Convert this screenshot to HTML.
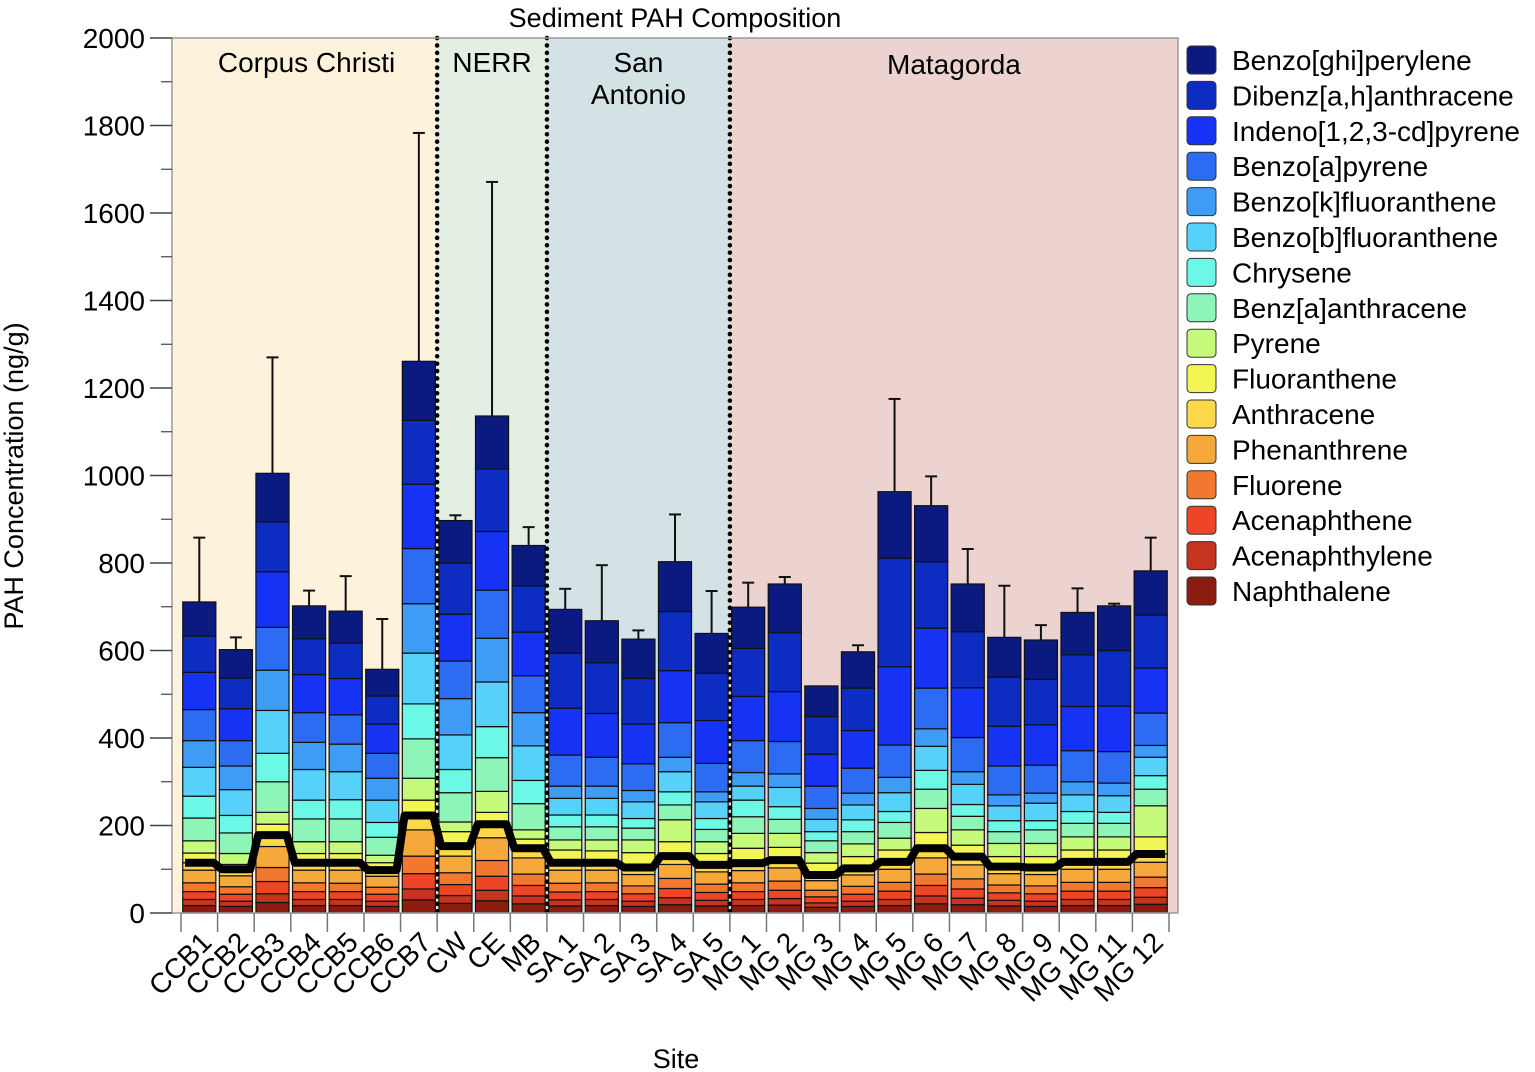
<!DOCTYPE html>
<html><head><meta charset="utf-8">
<style>
html,body{margin:0;padding:0;background:#fff;}
svg{display:block;font-family:"Liberation Sans",Arial,sans-serif;}
</style></head>
<body>
<svg id="chart" width="1535" height="1072" viewBox="0 0 1535 1072" xmlns="http://www.w3.org/2000/svg">
<text x="675" y="27" font-size="27" text-anchor="middle">Sediment PAH Composition</text>
<text x="676" y="1068" font-size="27" text-anchor="middle">Site</text>
<text transform="translate(23,476) rotate(-90)" font-size="27" text-anchor="middle">PAH Concentration (ng/g)</text>
<g id="plot"></g>
<g id="legend"></g>
</svg>
<script>
const sites = ["CCB1","CCB2","CCB3","CCB4","CCB5","CCB6","CCB7","CW","CE","MB","SA 1","SA 2","SA 3","SA 4","SA 5","MG 1","MG 2","MG 3","MG 4","MG 5","MG 6","MG 7","MG 8","MG 9","MG 10","MG 11","MG 12"];
const compNames = ["Naphthalene","Acenaphthylene","Acenaphthene","Fluorene","Phenanthrene","Anthracene","Fluoranthene","Pyrene","Benz[a]anthracene","Chrysene","Benzo[b]fluoranthene","Benzo[k]fluoranthene","Benzo[a]pyrene","Indeno[1,2,3-cd]pyrene","Dibenz[a,h]anthracene","Benzo[ghi]perylene"];
const naph = [17,15,24,17,17,15,30,22,28,21,16,17,15,19,16,17,18,13,15,17,21,19,16,15,17,17,20];
const acy  = [14,12,20,14,14,12,25,18,24,18,14,14,12,16,13,14,15,10,12,14,18,15,13,12,14,14,16];
const ace  = [18,16,28,18,18,16,35,25,32,24,18,18,17,21,18,18,19,14,16,19,24,21,17,17,19,19,22];
const fluorene = [20,17,32,20,19,16,40,27,36,26,20,20,18,23,19,20,21,15,18,20,26,23,18,18,20,20,24];
const phen = [29,25,48,29,30,25,60,38,52,37,30,29,26,32,28,28,30,22,26,30,37,32,26,26,30,30,34];
const anth = [17,15,26,17,17,14,33,23,31,22,17,17,16,19,16,17,18,13,15,17,22,19,16,16,17,17,19];
const flua = [22,11,25,21,21,17,35,33,27,21,29,27,34,33,26,34,29,27,27,27,36,26,23,25,27,27,39];
const pyr  = [28,25,27,27,27,17,50,22,48,21,23,25,29,50,27,34,32,24,29,27,55,35,30,30,30,30,71];
const baa  = [52,47,70,52,52,41,90,67,77,60,30,30,27,34,28,38,32,27,28,36,44,31,27,31,31,31,38];
const chry = [50,40,65,43,44,34,80,53,71,53,27,27,22,30,25,38,29,21,27,25,43,27,25,21,27,25,31];
const bbf  = [66,59,98,70,64,51,116,79,102,79,38,38,38,46,38,32,44,28,34,43,55,46,34,40,38,38,42];
const bkf  = [61,54,92,62,63,50,113,83,100,76,28,28,26,33,23,31,31,25,27,35,40,29,25,23,30,29,27];
const bap  = [71,58,98,68,67,57,126,86,110,84,71,66,61,79,65,73,74,51,57,74,93,78,66,64,71,72,74];
const ipy  = [85,73,127,87,83,67,147,107,134,100,107,100,91,119,98,101,114,73,86,179,137,114,91,92,101,104,103];
const daha = [83,70,114,82,81,64,146,117,143,106,126,116,104,135,108,110,135,86,97,248,152,128,112,104,118,127,121];
const bghi = [78,65,111,75,73,61,135,97,121,92,100,96,90,114,91,94,111,70,83,152,128,109,91,90,97,102,101];
const errs = [147,28,265,35,80,115,522,12,535,42,47,127,20,108,97,56,16,0,15,212,67,80,118,34,55,5,76];
const yTicks = [0,200,400,600,800,1000,1200,1400,1600,1800,2000];
const regionNames = ["Corpus Christi","NERR","San\nAntonio","Matagorda"];
const regionStarts = [0,7,10,15];
const regionEnds = [7,10,15,27];

const series = [naph,acy,ace,fluorene,phen,anth,flua,pyr,baa,chry,bbf,bkf,bap,ipy,daha,bghi];
const colors = ["#8a1c10","#c4341e","#ee4526","#f3782f","#f7a83a","#fcd84a","#f2f552","#c6fa7a","#8ef5b8","#6cf8e6","#56d2fa","#3e9cf5","#2b6cf2","#1532f5","#0c2cc2","#0a1a80"];
const regionColors = ["#fdf2dc","#e3efe3","#d4e2e6","#ecd3cf"];

const NS = "http://www.w3.org/2000/svg";
const PL = 172, PR = 1178, PT = 38, PB = 913, PAD = 9;
const step = (PR - PL - 2*PAD) / sites.length;
function xs(i){ return PL + PAD + i*step; }
function ys(v){ return PB - (v/2000)*(PB-PT); }
function mk(tag, attrs, parent){ const e=document.createElementNS(NS,tag); for(const k in attrs) e.setAttribute(k,attrs[k]); parent.appendChild(e); return e; }
const plot = document.getElementById('plot');

regionNames.forEach((nm,r)=>{
  const x0 = r===0?PL:xs(regionStarts[r]);
  const x1 = r===3?PR:xs(regionEnds[r]);
  const rc = mk('rect',{x:x0,y:PT,width:x1-x0,height:PB-PT,fill:regionColors[r]},plot);
  
  
  const lines = nm.split("\n");
  lines.forEach((ln,li)=>{
    const t = mk('text',{x:(x0+x1)/2+(r===0?2:0),y:72+li*32+(r===3?2:0),'font-size':28,'text-anchor':'middle'},plot);
    t.textContent = ln;
    
    
  });
});

const bw = step - 3.5;
const totals = sites.map((s,i)=>series.reduce((a,arr)=>a+arr[i],0));
const lmw = sites.map((s,i)=>naph[i]+acy[i]+ace[i]+fluorene[i]+phen[i]+anth[i]);
sites.forEach((s,i)=>{
  const g = mk('g',{},plot);
  
  
  const x = xs(i) + (step-bw)/2;
  let cum = 0;
  series.forEach((arr,k)=>{
    const y0 = ys(cum), y1 = ys(cum+arr[i]);
    const r = mk('rect',{x:x,y:y1,width:bw,height:y0-y1,fill:colors[k],stroke:'#111','stroke-width':1.2},g);
    
    
    cum += arr[i];
  });
  if(errs[i]>0){
    const cx = xs(i)+step/2;
    const ey = ys(totals[i]+errs[i]);
    const el = mk('line',{x1:cx,x2:cx,y1:ys(totals[i]),y2:ey,stroke:'#111','stroke-width':2},g);
    
    
    const cap = mk('line',{x1:cx-6,x2:cx+6,y1:ey,y2:ey,stroke:'#111','stroke-width':2},g);
    
    
  }
});

let d = "";
sites.forEach((s,i)=>{
  const y = ys(lmw[i]);
  const xa = xs(i)+4, xb = xs(i+1)-4;
  d += (i===0?"M":"L")+xa+","+y+" L"+xb+","+y+" ";
});
const lp = mk('path',{d:d,fill:'none',stroke:'#000','stroke-width':8,'stroke-linejoin':'round'},plot);



[7,10,15].forEach(b=>{
  const l = mk('line',{x1:xs(b),x2:xs(b),y1:PT,y2:PB,stroke:'#000','stroke-width':4.5,'stroke-dasharray':'0.1 7.3','stroke-linecap':'round'},plot);
  
  
});

const fr = mk('rect',{x:PL,y:PT,width:PR-PL,height:PB-PT,fill:'none',stroke:'#9a9a9a','stroke-width':1.5},plot);



yTicks.forEach(v=>{
  const y = ys(v);
  const t = mk('line',{x1:150,x2:PL,y1:y,y2:y,stroke:'#444','stroke-width':1.5},plot);
  
  
  const lb = mk('text',{x:145,y:y+10,'font-size':28,'text-anchor':'end'},plot);
  lb.textContent = v;
  
  
  if(v<2000){
    const ym = ys(v+100);
    const m = mk('line',{x1:161,x2:PL,y1:ym,y2:ym,stroke:'#444','stroke-width':1.2},plot);
    
    
  }
});

for(let b=0;b<=sites.length;b++){
  const t = mk('line',{x1:xs(b),x2:xs(b),y1:PB,y2:932,stroke:'#777','stroke-width':1.5},plot);
  
  
}
sites.forEach((s,i)=>{
  const cx = xs(i)+step/2+14, cy = 944;
  const t = mk('text',{x:cx,y:cy,'font-size':28,'text-anchor':'end',transform:'rotate(-45 '+cx+' '+cy+')'},plot);
  t.textContent = s;
  
  
});

const leg = document.getElementById('legend');
for(let k=15;k>=0;k--){
  const row = 15-k;
  const y = 60 + row*35.4;
  const g = mk('g',{},leg);
  
  
  mk('rect',{x:1187,y:y-14,width:29,height:28,rx:4,fill:colors[k],stroke:'#333','stroke-width':1},g);
  const t = mk('text',{x:1232,y:y+10,'font-size':28},g);
  t.textContent = compNames[k];
}
</script>
</body></html>
